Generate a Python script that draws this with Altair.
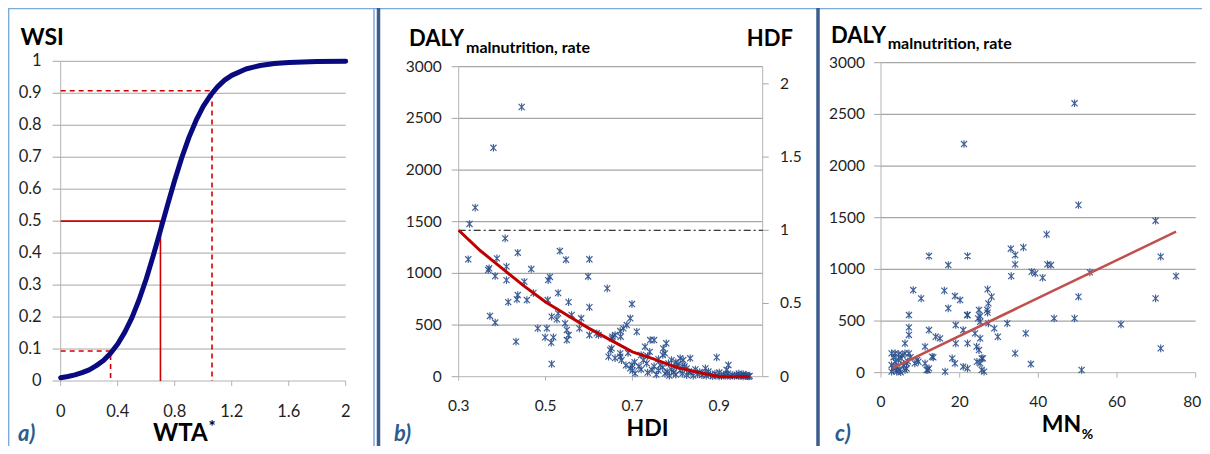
import altair as alt
import pandas as pd

W, H = 1194, 438

# ---------------- Panel a: WSI vs WTA* ----------------
wta = [0, 0.05, 0.1, 0.15, 0.2, 0.25, 0.3, 0.35, 0.4, 0.45, 0.5, 0.55, 0.6, 0.65, 0.7,
       0.75, 0.8, 0.85, 0.9, 0.95, 1.0, 1.05, 1.1, 1.15, 1.2, 1.3, 1.4, 1.5, 1.6, 1.8, 2.0]
wsi = [0.010, 0.014, 0.019, 0.026, 0.035, 0.048, 0.064, 0.087, 0.116, 0.153, 0.198, 0.254,
       0.319, 0.393, 0.471, 0.551, 0.628, 0.699, 0.762, 0.815, 0.859, 0.893, 0.920, 0.941,
       0.956, 0.976, 0.987, 0.993, 0.996, 0.999, 1.0]
a_xticks = [0, 0.4, 0.8, 1.2, 1.6, 2]
a_xlabels = ["0", "0.4", "0.8", "1.2", "1.6", "2"]
a_yticks = [0, 0.1, 0.2, 0.3, 0.4, 0.5, 0.6, 0.7, 0.8, 0.9, 1.0]
a_ylabels = ["0", "0.1", "0.2", "0.3", "0.4", "0.5", "0.6", "0.7", "0.8", "0.9", "1"]
solid_x = [0, 0.70, 0.70]
solid_y = [0.5, 0.5, 0]
low_x = [0, 0.35, 0.35]
low_y = [0.094, 0.094, 0]
high_x = [0, 1.062, 1.062]
high_y = [0.908, 0.908, 0]

# ---------------- Panel b: DALY vs HDI ----------------
b_pairs = [
    (0.445, 2610), (0.380, 2215), (0.338, 1636), (0.325, 1478), (0.322, 1136), (0.407, 1339),
    (0.436, 1200), (0.388, 1145), (0.533, 1216), (0.547, 1132), (0.601, 1136), (0.598, 970),
    (0.510, 965), (0.506, 935), (0.370, 1049), (0.368, 1032), (0.410, 1065), (0.384, 974),
    (0.410, 935), (0.451, 919), (0.467, 1042), (0.642, 855), (0.529, 810), (0.436, 790),
    (0.434, 748), (0.414, 722), (0.457, 742), (0.472, 810), (0.505, 742), (0.553, 722),
    (0.601, 672), (0.699, 703), (0.372, 588), (0.384, 524), (0.432, 339), (0.514, 123),
    (0.482, 468), (0.503, 468), (0.499, 381), (0.513, 330), (0.518, 381), (0.514, 581),
    (0.529, 613), (0.526, 555), (0.545, 516), (0.549, 452), (0.553, 403), (0.549, 355),
    (0.560, 597), (0.582, 565), (0.578, 468), (0.601, 403), (0.622, 403), (0.653, 371),
    (0.649, 258), (0.645, 194), (0.660, 403), (0.672, 442), (0.687, 500), (0.695, 565),
    (0.710, 435), (0.679, 468), (0.673, 387), (0.654, 387), (0.618, 420), (0.652, 274),
    (0.672, 226), (0.672, 194), (0.729, 290), (0.741, 355), (0.750, 355), (0.778, 323),
    (0.775, 226), (0.771, 274), (0.699, 113), (0.695, 81), (0.706, 32), (0.733, 129),
    (0.745, 65), (0.764, 113), (0.783, 129), (0.810, 178), (0.817, 161), (0.833, 178),
    (0.802, 97), (0.825, 81), (0.868, 81), (0.894, 187), (0.921, 113), (0.917, 65),
    (0.720, 70), (0.735, 40), (0.750, 100), (0.755, 20), (0.760, 60), (0.770, 90),
    (0.775, 30), (0.780, 50), (0.785, 10), (0.790, 70), (0.795, 40), (0.800, 20),
    (0.805, 120), (0.810, 60), (0.815, 30), (0.820, 100), (0.825, 15), (0.830, 50),
    (0.835, 40), (0.840, 10), (0.845, 70), (0.850, 25), (0.855, 45), (0.860, 15),
    (0.865, 30), (0.870, 10), (0.875, 50), (0.880, 20), (0.885, 5), (0.890, 30),
    (0.895, 10), (0.900, 40), (0.905, 5), (0.910, 20), (0.915, 10), (0.920, 30),
    (0.925, 5), (0.930, 15), (0.935, 8), (0.940, 20), (0.945, 5), (0.950, 12),
    (0.955, 3), (0.960, 10), (0.965, 5), (0.970, 8), (0.955, 25), (0.945, 30),
    (0.962, 18), (0.968, 2), (0.790, 160), (0.770, 210), (0.760, 170), (0.800, 140),
    (0.815, 100), (0.740, 240), (0.735, 200), (0.725, 160), (0.715, 100), (0.705, 140),
    (0.720, 210), (0.660, 180), (0.675, 160), (0.690, 230), (0.685, 110), (0.700, 60),
]
b_hdi = [p[0] for p in b_pairs]
b_daly = [p[1] for p in b_pairs]
hdf_hdi = [0.30, 0.35, 0.40, 0.45, 0.50, 0.55, 0.60, 0.65, 0.70, 0.75, 0.80, 0.85, 0.90, 0.97]
hdf_val = [1.00, 0.86, 0.74, 0.62, 0.51, 0.42, 0.33, 0.25, 0.17, 0.12, 0.065, 0.03, 0.0, 0.0]
b_xticks = [0.3, 0.5, 0.7, 0.9]
b_xlabels = ["0.3", "0.5", "0.7", "0.9"]
b_yticks = [0, 500, 1000, 1500, 2000, 2500, 3000]
b_ylabels = ["0", "500", "1000", "1500", "2000", "2500", "3000"]
b_rticks = [0, 0.5, 1, 1.5, 2]
b_rlabels = ["0", "0.5", "1", "1.5", "2"]

# ---------------- Panel c: DALY vs MN% ----------------
c_pairs = [
    (49.2, 2607), (21.1, 2213), (50.2, 1623), (69.8, 1471), (42.1, 1339), (12.2, 1129),
    (22.0, 1129), (17.1, 1042), (33.0, 1200), (34.1, 1139), (36.2, 1213), (34.1, 1048),
    (33.1, 935), (38.3, 977), (39.2, 961), (41.1, 919), (42.3, 1048), (43.2, 1042),
    (71.1, 1123), (75.0, 935), (53.1, 971), (50.2, 735), (69.8, 719), (44.0, 526),
    (49.2, 526), (61.0, 468), (71.1, 235), (51.0, 26), (38.1, 84), (34.1, 187),
    (36.8, 381), (32.1, 477), (8.2, 800), (10.2, 719), (16.1, 794), (18.8, 742),
    (20.1, 703), (17.1, 623), (7.1, 558), (7.1, 439), (7.1, 365), (6.1, 284),
    (12.2, 413), (13.9, 348), (15.0, 332), (11.2, 252), (13.3, 148), (22.0, 558),
    (20.9, 413), (19.0, 461), (19.0, 284), (22.0, 284), (23.9, 381), (24.3, 252),
    (24.9, 219), (24.9, 607), (25.2, 548), (25.2, 493), (25.2, 332), (27.1, 806),
    (27.3, 671), (28.1, 735), (27.1, 581), (27.3, 477), (28.8, 429), (29.7, 348),
    (25.6, 139), (25.2, 90), (24.4, 106), (25.6, 26), (20.9, 58), (22.0, 42),
    (18.1, 139), (18.8, 90), (16.3, 10), (12.2, 42), (11.6, 26), (11.2, 90),
    (9.5, 106), (7.1, 187), (6.1, 187), (5.4, 171), (5.1, 139), (3.6, 187),
    (2.7, 187), (2.7, 74), (3.1, 42), (3.9, 26), (4.8, 26), (6.1, 26), (3.6, 106),
    (4.4, 123), (5.7, 74), (6.5, 90), (8.6, 90), (2.7, 10), (3.9, 58), (13.0, 155),
    (11.9, 26), (9.2, 123), (26.2, 10), (25.9, 139), (24.7, 526), (21.9, 558),
    (27.0, 607), (4.0, 10), (5.0, 5), (6.5, 40), (3.2, 150), (4.5, 180), (7.5, 150),
    (6.8, 110),
]
c_mn = [p[0] for p in c_pairs]
c_daly = [p[1] for p in c_pairs]
trend_mn = [3, 75]
trend_daly = [45, 1365]
c_xticks = [0, 20, 40, 60, 80]
c_xlabels = ["0", "20", "40", "60", "80"]
c_yticks = [0, 500, 1000, 1500, 2000, 2500, 3000]
c_ylabels = ["0", "500", "1000", "1500", "2000", "2500", "3000"]

# ---------------- styles ----------------
FONT = "Lato"
LABEL = "#1f1f1f"
GRID = "#a6a6a6"
AXL = "#b3b3b3"
NAVY = "#0a0a80"
RED = "#d00000"
PT = "#2a4f8c"
STAR = "M-0.8,-0.8L0.8,0.8M-0.8,0.8L0.8,-0.8M0,-1L0,1"
FRAME_LIGHT = "#7eaadb"
FRAME_DARK = "#3e5d8e"
LETTER = "#2e5b8e"

dummy = alt.Data(values=[{"k": 0}])


# ---------------- hand-built axes (driven by the panel scales) ----------------
def x_axis(scale, ticks, labels, lo, hi, axis_y, tick_len, label_base, fs, last_dx=None):
    df = pd.DataFrame({"v": ticks, "lab": labels})
    line = alt.Chart(pd.DataFrame({"x0": [lo], "x1": [hi]})).mark_rule(
        color=AXL, strokeWidth=1).encode(
        x=alt.X("x0:Q", scale=scale, axis=None), x2="x1", y=alt.value(axis_y))
    tk = alt.Chart(df).mark_rule(color=AXL, strokeWidth=1).encode(
        x=alt.X("v:Q", scale=scale, axis=None), y=alt.value(axis_y),
        y2=alt.value(axis_y + tick_len))
    main = df if last_dx is None else df.iloc[:-1]
    out = [line, tk,
           alt.Chart(main).mark_text(font=FONT, fontSize=fs, color=LABEL, align="center",
                                     baseline="alphabetic").encode(
               x=alt.X("v:Q", scale=scale, axis=None), y=alt.value(label_base),
               text="lab:N")]
    if last_dx is not None:
        out.append(alt.Chart(df.iloc[-1:]).mark_text(
            font=FONT, fontSize=fs, color=LABEL, align="right", dx=last_dx,
            baseline="alphabetic").encode(
            x=alt.X("v:Q", scale=scale, axis=None), y=alt.value(label_base), text="lab:N"))
    return out


def y_axis(scale, ticks, labels, lo, hi, axis_x, tick_len, label_x, fs, side="left"):
    df = pd.DataFrame({"v": ticks, "lab": labels})
    line = alt.Chart(pd.DataFrame({"y0": [lo], "y1": [hi]})).mark_rule(
        color=AXL, strokeWidth=1).encode(
        y=alt.Y("y0:Q", scale=scale, axis=None), y2="y1", x=alt.value(axis_x))
    end = axis_x - tick_len if side == "left" else axis_x + tick_len
    tk = alt.Chart(df).mark_rule(color=GRID, strokeWidth=1).encode(
        y=alt.Y("v:Q", scale=scale, axis=None), x=alt.value(end), x2=alt.value(axis_x))
    lb = alt.Chart(df).mark_text(font=FONT, fontSize=fs, color=LABEL,
                                 align="right" if side == "left" else "left",
                                 baseline="middle").encode(
        y=alt.Y("v:Q", scale=scale, axis=None), x=alt.value(label_x), text="lab:N")
    return [line, tk, lb]


# ---------------- panel a ----------------
xa = alt.Scale(domain=[0, 2], range=[52.7, 337.7], nice=False, zero=False)
ya = alt.Scale(domain=[0, 1], range=[373, 53.3], nice=False, zero=False)

df_a = pd.DataFrame({"wta": wta, "wsi": wsi})
grid_a = pd.DataFrame({"v": a_yticks[1:], "x0": 0, "x1": 2})
df_solid = pd.DataFrame({"x": solid_x, "y": solid_y, "i": [0, 1, 2]})
df_dash = pd.DataFrame({"x": low_x + high_x, "y": low_y + high_y,
                        "g": ["lo"] * 3 + ["hi"] * 3, "i": [0, 1, 2] * 2})

a_grid = alt.Chart(grid_a).mark_rule(color=GRID, strokeWidth=1).encode(
    x=alt.X("x0:Q", scale=xa, axis=None), x2="x1", y=alt.Y("v:Q", scale=ya, axis=None))
a_solid = alt.Chart(df_solid).mark_line(color=RED, strokeWidth=1.6).encode(
    x=alt.X("x:Q", scale=xa, axis=None), y=alt.Y("y:Q", scale=ya, axis=None), order="i:O")
a_dash = alt.Chart(df_dash).mark_line(color=RED, strokeWidth=1.6, strokeDash=[5, 4]).encode(
    x=alt.X("x:Q", scale=xa, axis=None), y=alt.Y("y:Q", scale=ya, axis=None),
    detail="g:N", order="i:O")
a_curve = alt.Chart(df_a).mark_line(color=NAVY, strokeWidth=5, strokeCap="round",
                                    strokeJoin="round").encode(
    x=alt.X("wta:Q", scale=xa, axis=None), y=alt.Y("wsi:Q", scale=ya, axis=None))
panel_a = alt.layer(
    a_grid,
    *x_axis(xa, a_xticks, a_xlabels, 0, 2, 373, 5, 408.7, 16.5),
    *y_axis(ya, a_yticks, a_ylabels, 0, 1, 52.7, 8, 33.7, 16.5),
    a_solid, a_dash, a_curve)

# ---------------- panel b ----------------
xb = alt.Scale(domain=[0.3, 1.0], range=[450.7, 754.7], nice=False, zero=False)
yb = alt.Scale(domain=[0, 3000], range=[368.7, 58.7], nice=False, zero=False)
yh = alt.Scale(domain=[0, 2.117], range=[368.7, 58.7], nice=False, zero=False)

df_b = pd.DataFrame({"hdi": b_hdi, "daly": b_daly})
df_hdf = pd.DataFrame({"hdi": hdf_hdi, "hdf": hdf_val})
grid_b = pd.DataFrame({"v": b_yticks[1:], "x0": 0.3, "x1": 1.0})
ref_b = pd.DataFrame({"hdf": [1.0], "x0": [0.3], "x1": [1.0]})

b_grid = alt.Chart(grid_b).mark_rule(color=GRID, strokeWidth=1.2).encode(
    x=alt.X("x0:Q", scale=xb, axis=None), x2="x1", y=alt.Y("v:Q", scale=yb, axis=None))
b_scatter = alt.Chart(df_b).mark_point(shape=STAR, size=58, strokeWidth=1.15, color=PT,
                                       opacity=0.9).encode(
    x=alt.X("hdi:Q", scale=xb, axis=None), y=alt.Y("daly:Q", scale=yb, axis=None))
b_ref = alt.Chart(ref_b).mark_rule(color="#000000", strokeWidth=1,
                                   strokeDash=[7, 3, 2, 3]).encode(
    x=alt.X("x0:Q", scale=xb, axis=None), x2="x1", y=alt.Y("hdf:Q", scale=yh, axis=None))
b_line = alt.Chart(df_hdf).mark_line(color="#c00000", strokeWidth=3).encode(
    x=alt.X("hdi:Q", scale=xb, axis=None), y=alt.Y("hdf:Q", scale=yh, axis=None))

left_b = alt.layer(
    b_grid,
    *x_axis(xb, b_xticks, b_xlabels, 0.3, 1.0, 368.7, 4, 402.7, 15.5),
    *y_axis(yb, b_yticks, b_ylabels, 0, 3000, 450.7, 7, 433.7, 15.5),
    b_scatter)
right_b = alt.layer(
    *y_axis(yh, b_rticks, b_rlabels, 0, 2.117, 754.7, 6, 772, 15.5, side="right"),
    b_ref, b_line)
panel_b = alt.layer(left_b, right_b).resolve_scale(y="independent")

# ---------------- panel c ----------------
xc = alt.Scale(domain=[0, 80], range=[873, 1187.7], nice=False, zero=False)
yc = alt.Scale(domain=[0, 3000], range=[364.7, 54.7], nice=False, zero=False)

df_c = pd.DataFrame({"mn": c_mn, "daly": c_daly})
df_trend = pd.DataFrame({"mn": trend_mn, "daly": trend_daly})
grid_c = pd.DataFrame({"v": c_yticks[1:], "x0": 0, "x1": 80})

c_grid = alt.Chart(grid_c).mark_rule(color=GRID, strokeWidth=1.2).encode(
    x=alt.X("x0:Q", scale=xc, axis=None), x2="x1", y=alt.Y("v:Q", scale=yc, axis=None))
c_scatter = alt.Chart(df_c).mark_point(shape=STAR, size=58, strokeWidth=1.15, color=PT,
                                       opacity=0.9).encode(
    x=alt.X("mn:Q", scale=xc, axis=None), y=alt.Y("daly:Q", scale=yc, axis=None))
c_trend = alt.Chart(df_trend).mark_line(color="#c0504d", strokeWidth=2.5).encode(
    x=alt.X("mn:Q", scale=xc, axis=None), y=alt.Y("daly:Q", scale=yc, axis=None))
panel_c = alt.layer(
    c_grid,
    *x_axis(xc, c_xticks, c_xlabels, 0, 80, 364.7, 5, 399.3, 15.5, last_dx=5.5),
    *y_axis(yc, c_yticks, c_ylabels, 0, 3000, 873, 7, 857, 15.5),
    c_scatter, c_trend)


# ---------------- decorations and texts ----------------
def txt(s, x, y, size, weight="bold", style="normal", color="#000000"):
    return alt.Chart(dummy).mark_text(text=s, font=FONT, fontSize=size, fontWeight=weight,
                                      fontStyle=style, color=color, align="left",
                                      baseline="alphabetic").encode(
        x=alt.value(x), y=alt.value(y))


def hline(y, x0, x1, color, w):
    return alt.Chart(dummy).mark_rule(color=color, strokeWidth=w).encode(
        x=alt.value(x0), x2=alt.value(x1), y=alt.value(y))


def vline(x, y0, y1, color, w):
    return alt.Chart(dummy).mark_rule(color=color, strokeWidth=w).encode(
        x=alt.value(x), y=alt.value(y0), y2=alt.value(y1))


frames = [
    hline(0.6, 0, W, FRAME_LIGHT, 1.5),
    vline(0.6, 0, H, FRAME_LIGHT, 1.5),
    vline(366, 0, H, FRAME_LIGHT, 1.5),
    vline(370.5, 0, H, FRAME_DARK, 3.5),
    vline(810, 0, H, FRAME_DARK, 3.5),
]

texts = [
    txt("WSI", 12.5, 37, 23),
    txt("WTA", 145, 432.5, 24),
    txt("*", 200.5, 425, 17),
    txt("a)", 10, 433, 22, style="italic", color=LETTER),
    txt("DALY", 401, 38, 22),
    txt("malnutrition, rate", 458, 45.3, 16),
    txt("HDF", 738.7, 38, 22),
    txt("HDI", 618.5, 428, 23),
    txt("b)", 386, 433, 22, style="italic", color=LETTER),
    txt("DALY", 823, 34.7, 22),
    txt("malnutrition, rate", 879.7, 41.3, 16),
    txt("MN", 1033.7, 424.3, 23),
    txt("%", 1073.7, 431.3, 14),
    txt("c)", 827, 433, 22, style="italic", color=LETTER),
]

chart = alt.layer(*frames, panel_a, panel_b, panel_c, *texts).resolve_scale(
    x="independent", y="independent"
).properties(
    width=W, height=H, padding=0, autosize=alt.AutoSizeParams(type="none"),
    background="#ffffff"
).configure_view(stroke=None)

chart.save("out.html", embed_options={"renderer": "svg", "actions": False})
